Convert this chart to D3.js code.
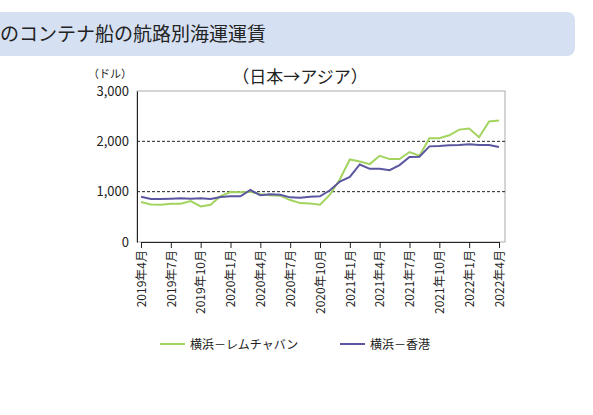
<!DOCTYPE html><html><head><meta charset="utf-8"><script src="https://cdn.jsdelivr.net/npm/d3@7"></script>
<style>body{margin:0;background:#fff}text{font-family:"Noto Sans CJK JP","Noto Sans",sans-serif}</style></head><body>
<svg id="c" width="593" height="415"></svg>
<script>
const months=[];for(let i=0;i<37;i++){const m=(3+i)%12+1,y=2019+Math.floor((3+i)/12);months.push(y+"年"+m+"月");}
const green=[793,747,740,760,760,813,707,740,913,993,987,1000,947,927,920,833,773,767,740,940,1247,1640,1600,1547,1713,1647,1647,1787,1713,2060,2060,2120,2233,2253,2080,2393,2413];
const blue=[900,853,853,860,867,860,867,853,893,907,907,1033,927,947,940,887,880,900,907,1027,1200,1293,1540,1453,1453,1427,1527,1687,1693,1900,1907,1920,1927,1940,1927,1927,1887];
const yTicks=[0,1000,2000,3000];
const svg=d3.select("#c");
svg.append("rect").attr("x",-20).attr("y",12).attr("width",595).attr("height",44).attr("rx",8).attr("fill","#d5e0f2");
svg.append("text").attr("x",0).attr("y",41).attr("font-size",19).attr("fill","#222").text("のコンテナ船の航路別海運運賃");
svg.append("text").attr("x",300).attr("y",83).attr("text-anchor","middle").attr("font-size",17).attr("fill","#222").text("（日本→アジア）");
svg.append("text").attr("x",110).attr("y",78).attr("text-anchor","middle").attr("font-size",11).attr("fill","#222").text("（ドル）");
const x=d3.scaleLinear().domain([0,36]).range([141,499]);
const y=d3.scaleLinear().domain([0,3000]).range([242,91]);
svg.append("rect").attr("x",137).attr("y",91).attr("width",368).attr("height",151).attr("fill","none").attr("stroke","#aaa");
[1000,2000].forEach(v=>svg.append("line").attr("x1",137).attr("x2",505).attr("y1",y(v)).attr("y2",y(v)).attr("stroke","#222").attr("stroke-dasharray","3,2"));
const ya=svg.append("g").attr("transform","translate(137,0)").call(d3.axisLeft(y).tickValues(yTicks).tickFormat(d3.format(",")).tickSize(0).tickPadding(8));
ya.select(".domain").attr("stroke","#222");ya.selectAll("text").attr("font-size",13).attr("fill","#222");
const xa=svg.append("g").attr("transform","translate(0,242)").call(d3.axisBottom(x).tickValues(d3.range(0,37,3)).tickFormat(i=>months[i]).tickSize(6).tickSizeOuter(0));
xa.select(".domain").attr("stroke","#222");xa.selectAll("line").attr("stroke","#222");
xa.selectAll("text").attr("font-size",12).attr("fill","#222").attr("text-anchor","end").attr("transform","rotate(-90)").attr("x",-8).attr("y",0).attr("dy","0.35em");
const line=d3.line().x((d,i)=>x(i)).y(d=>y(d));
svg.append("path").datum(green).attr("d",line).attr("fill","none").attr("stroke","#a2d45f").attr("stroke-width",2);
svg.append("path").datum(blue).attr("d",line).attr("fill","none").attr("stroke","#5b56a0").attr("stroke-width",2);
[["横浜－レムチャバン","#a2d45f",160],["横浜－香港","#5b56a0",340]].forEach(([t,c,lx])=>{
svg.append("line").attr("x1",lx).attr("x2",lx+25).attr("y1",344).attr("y2",344).attr("stroke",c).attr("stroke-width",2);
svg.append("text").attr("x",lx+30).attr("y",349).attr("font-size",12).attr("fill","#222").text(t);});
</script></body></html>
